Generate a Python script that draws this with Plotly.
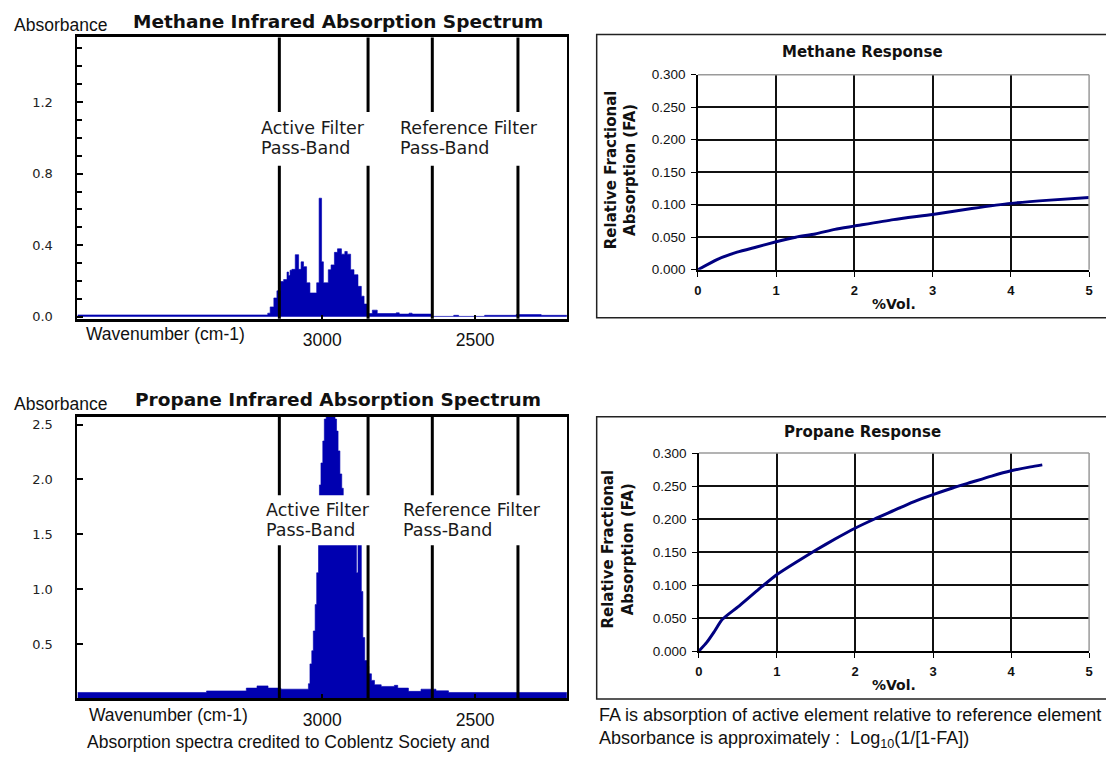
import plotly.graph_objects as go

W, H = 1106, 759

# ---------------- data ----------------
# Methane IR spectrum (wavenumber cm-1, absorbance)
ch4_wavenumber = [3800, 3178, 3170, 3158, 3148, 3137, 3126, 3115, 3110, 3105,
                  3099, 3088, 3077, 3069, 3061, 3051, 3040, 3018, 3010, 3002,
                  2996, 2980, 2971, 2960, 2950, 2937, 2926, 2918, 2907, 2896,
                  2883, 2872, 2863, 2852, 2844, 2836, 2820, 2758, 2748, 2716,
                  2706, 2648, 2641, 2570, 2554, 2469, 2366, 2284, 2200]
ch4_absorbance = [0.010, 0.020, 0.055, 0.105, 0.145, 0.197, 0.208, 0.250, 0.230, 0.260,
                  0.265, 0.347, 0.265, 0.307, 0.280, 0.190, 0.133, 0.190, 0.663, 0.307,
                  0.190, 0.263, 0.290, 0.360, 0.380, 0.350, 0.365, 0.350, 0.263, 0.235,
                  0.170, 0.115, 0.071, 0.018, 0.018, 0.037, 0.018, 0.022, 0.015, 0.020,
                  0.015, 0.015, 0.002, 0.008, 0.002, 0.008, 0.012, 0.008, 0.008]

# Propane IR spectrum
c3h8_wavenumber = [3800, 3378, 3248, 3213, 3177, 3135, 3045, 3040, 3034, 3029,
                   3023, 3018, 3012, 3009, 3004, 2998, 2993, 2987, 2958, 2953,
                   2948, 2942, 2936, 2931, 2910, 2888, 2883, 2872, 2867, 2861,
                   2852, 2848, 2839, 2829, 2807, 2764, 2753, 2718, 2677, 2628,
                   2587, 2200]
c3h8_absorbance = [0.06, 0.074, 0.10, 0.12, 0.10, 0.09, 0.14, 0.32, 0.44, 0.62,
                   0.86, 1.15, 1.41, 1.95, 2.15, 2.35, 2.55, 2.70, 2.55, 2.44,
                   2.26, 2.05, 1.92, 1.70, 1.60, 1.15, 1.50, 0.98, 0.56, 0.35,
                   0.30, 0.23, 0.17, 0.13, 0.115, 0.125, 0.10, 0.07, 0.09, 0.075,
                   0.06, 0.06]

# Filter pass-bands (wavenumber edges)
active_band = [3140, 2850]
reference_band = [2640, 2360]

# Response curves (%Vol., relative fractional absorption)
vol_ch4 = [0, 0.25, 0.5, 0.75, 1.0, 1.25, 1.5, 1.75, 2.0, 2.5, 3.0, 3.5, 4.0, 4.5, 5.0]
fa_ch4 = [0, 0.016, 0.027, 0.035, 0.043, 0.050, 0.055, 0.062, 0.067, 0.077,
          0.085, 0.094, 0.102, 0.107, 0.111]
vol_c3h8 = [0, 0.1, 0.2, 0.3, 0.5, 0.75, 1.0, 1.25, 1.5, 1.75, 2.0, 2.25, 2.5,
            2.75, 3.0, 3.25, 3.5, 3.75, 4.0, 4.25, 4.4]
fa_c3h8 = [0, 0.013, 0.030, 0.048, 0.067, 0.092, 0.116, 0.135, 0.153, 0.170,
           0.186, 0.200, 0.213, 0.226, 0.237, 0.247, 0.256, 0.265, 0.273, 0.279, 0.282]

ch4_yticks = [0.0, 0.4, 0.8, 1.2]
c3h8_yticks = [0.5, 1.0, 1.5, 2.0, 2.5]
wn_ticks = [3000, 2500]

# ---------------- helpers ----------------
def px(x):
    return x / W

def py(y):
    return 1 - y / H

BLUE = "#0000B0"
NAVY = "#000080"
SANS = "Liberation Sans"
VERD = "DejaVu Sans"

fig = go.Figure()

fig.add_trace(go.Scatter(x=ch4_wavenumber, y=ch4_absorbance, mode="lines",
                         line=dict(shape="hv", width=0.6, color=BLUE),
                         fill="tozeroy", fillcolor=BLUE, xaxis="x", yaxis="y",
                         hoverinfo="skip"))
fig.add_trace(go.Scatter(x=c3h8_wavenumber, y=c3h8_absorbance, mode="lines",
                         line=dict(shape="hv", width=0.6, color=BLUE),
                         fill="tozeroy", fillcolor=BLUE, xaxis="x2", yaxis="y2",
                         hoverinfo="skip"))
fig.add_trace(go.Scatter(x=vol_ch4, y=fa_ch4, mode="lines",
                         line=dict(width=3, color=NAVY, shape="spline", smoothing=0.6),
                         xaxis="x3", yaxis="y3"))
fig.add_trace(go.Scatter(x=vol_c3h8, y=fa_c3h8, mode="lines",
                         line=dict(width=3, color=NAVY, shape="spline", smoothing=0.6),
                         xaxis="x4", yaxis="y4"))

spec_x_common = dict(range=[3800, 2200], showgrid=False, zeroline=False,
                     showline=True, mirror=True, linecolor="black", linewidth=2.5,
                     tickvals=wn_ticks, ticks="inside", ticklen=4, tickwidth=1.5,
                     tickcolor="black", ticklabelstandoff=4,
                     tickfont=dict(family=SANS, size=17.5, color="#111"))
spec_y_common = dict(showgrid=False, zeroline=False, showline=True, mirror=True,
                     linecolor="black", linewidth=2, ticks="inside", ticklen=6,
                     tickwidth=1.5, tickcolor="black", ticklabelstandoff=20,
                     tickfont=dict(family=VERD, size=13, color="#222"))

resp_x_common = dict(range=[0, 5], dtick=1, showgrid=True, gridcolor="#111",
                     gridwidth=1.6, zeroline=False, showline=True, linecolor="black",
                     linewidth=1.6, ticks="outside", ticklen=5, tickcolor="black",
                     ticklabelstandoff=3,
                     tickfont=dict(family=SANS, size=13, color="#111", weight="bold"))
resp_y_common = dict(range=[0, 0.3], dtick=0.05, tickformat=".3f", showgrid=True,
                     gridcolor="#111", gridwidth=1.6, zeroline=False, showline=True,
                     linecolor="black", linewidth=1.6, ticks="outside", ticklen=5,
                     tickcolor="black", ticklabelstandoff=3,
                     tickfont=dict(family=SANS, size=13.5, color="#111"))

fig.update_layout(
    width=W, height=H, autosize=False,
    margin=dict(l=0, r=0, t=0, b=0),
    paper_bgcolor="white", plot_bgcolor="white", showlegend=False,
    xaxis=dict(domain=[px(74), px(567)], anchor="y", **spec_x_common),
    yaxis=dict(domain=[py(318), py(31)], anchor="x", range=[-0.011, 1.562],
               tickvals=ch4_yticks, ticktext=[f"{v:.1f}" for v in ch4_yticks],
               minor=dict(dtick=0.1, ticks="inside", ticklen=5, tickcolor="black",
                          tickwidth=1.5),
               **spec_y_common),
    xaxis2=dict(domain=[px(74), px(567)], anchor="y2", **spec_x_common),
    yaxis2=dict(domain=[py(705), py(418)], anchor="x2", range=[0.009, 2.571],
                tickvals=c3h8_yticks, ticktext=[f"{v:.1f}" for v in c3h8_yticks],
                **spec_y_common),
    xaxis3=dict(domain=[px(699), px(1093)], anchor="y3", **resp_x_common),
    yaxis3=dict(domain=[py(268), py(69)], anchor="x3", **resp_y_common),
    xaxis4=dict(domain=[px(700), px(1093)], anchor="y4", **resp_x_common),
    yaxis4=dict(domain=[py(657), py(455)], anchor="x4", **resp_y_common),
)

shapes = []
# filter pass-band lines on both spectra
for xa, ya in (("x", "y"), ("x2", "y2")):
    for edge in active_band + reference_band:
        shapes.append(dict(type="line", xref=xa, yref=f"{ya} domain", x0=edge, x1=edge,
                           y0=0, y1=1, line=dict(color="black", width=3), layer="above"))
# white gaps behind the pass-band labels
for y0, y1 in ((107, 162), (498, 549)):
    shapes.append(dict(type="rect", xref="paper", yref="paper", x0=px(252), x1=px(560),
                       y0=py(y1), y1=py(y0), fillcolor="white", line=dict(width=0),
                       layer="above"))
# gray top / right borders of response plots
for xa, ya in (("x3", "y3"), ("x4", "y4")):
    shapes.append(dict(type="line", xref=f"{xa} domain", yref=f"{ya} domain",
                       x0=0, x1=1, y0=1, y1=1, line=dict(color="#9a9a9a", width=1.5)))
    shapes.append(dict(type="line", xref=f"{xa} domain", yref=f"{ya} domain",
                       x0=1, x1=1, y0=0, y1=1, line=dict(color="#9a9a9a", width=1.5)))
# outer boxes of response charts
for y0, y1 in ((28, 317), (418, 706)):
    shapes.append(dict(type="rect", xref="paper", yref="paper", x0=px(597), x1=px(1115),
                       y0=py(y1), y1=py(y0), line=dict(color="#222", width=1.5),
                       fillcolor="rgba(0,0,0,0)"))
fig.update_layout(shapes=shapes)

annotations = []

def ann(text, x, y, size, family=SANS, bold=False, xanchor="center",
        yanchor="middle", angle=0, color="#111", align="center"):
    annotations.append(dict(text=text, x=px(x), y=py(y), xref="paper", yref="paper",
                            showarrow=False, xanchor=xanchor, yanchor=yanchor,
                            textangle=angle, align=align,
                            font=dict(family=family, size=size, color=color,
                                      weight="bold" if bold else "normal")))

# spectrum panels
ann("Methane Infrared Absorption Spectrum", 336, 15, 18.5, VERD, True)
ann("Propane Infrared Absorption Spectrum", 336, 400, 18.5, VERD, True)
ann("Absorbance", 57, 18, 17.5)
ann("Absorbance", 57, 405, 17.5)
ann("Wavenumber (cm-1)", 163, 334, 17.5)
ann("Wavenumber (cm-1)", 166, 722, 17.5)
for (ax, ay, rx) in ((257, 123, 397), (262, 513, 400)):
    ann("Active Filter", ax, ay, 17.5, VERD, xanchor="left", color="#1a1a1a")
    ann("Pass-Band", ax, ay + 21, 17.5, VERD, xanchor="left", color="#1a1a1a")
    ann("Reference Filter", rx, ay, 17.5, VERD, xanchor="left", color="#1a1a1a")
    ann("Pass-Band", rx, ay + 21, 17.5, VERD, xanchor="left", color="#1a1a1a")
ann("Absorption spectra credited to Coblentz Society and", 287, 750, 17.5)

# response panels
ann("Methane Response", 865, 46, 15, VERD, True)
ann("Propane Response", 865, 434, 15, VERD, True)
ann("%Vol.", 896, 303, 14, VERD, True)
ann("%Vol.", 896, 692, 14, VERD, True)
ann("Relative Fractional<br>Absorption (FA)", 621, 166, 15, VERD, True, angle=-90)
ann("Relative Fractional<br>Absorption (FA)", 619, 553, 15, VERD, True, angle=-90)
ann("FA is absorption of active element relative to reference element<br>"
    "Absorbance is approximately :  Log<sub>10</sub>(1/[1-FA])",
    597, 736, 18, xanchor="left", align="left")

fig.update_layout(annotations=annotations)

fig.write_html("out.html", config={"displayModeBar": False},
               post_script="document.body.style.margin='0px';")
